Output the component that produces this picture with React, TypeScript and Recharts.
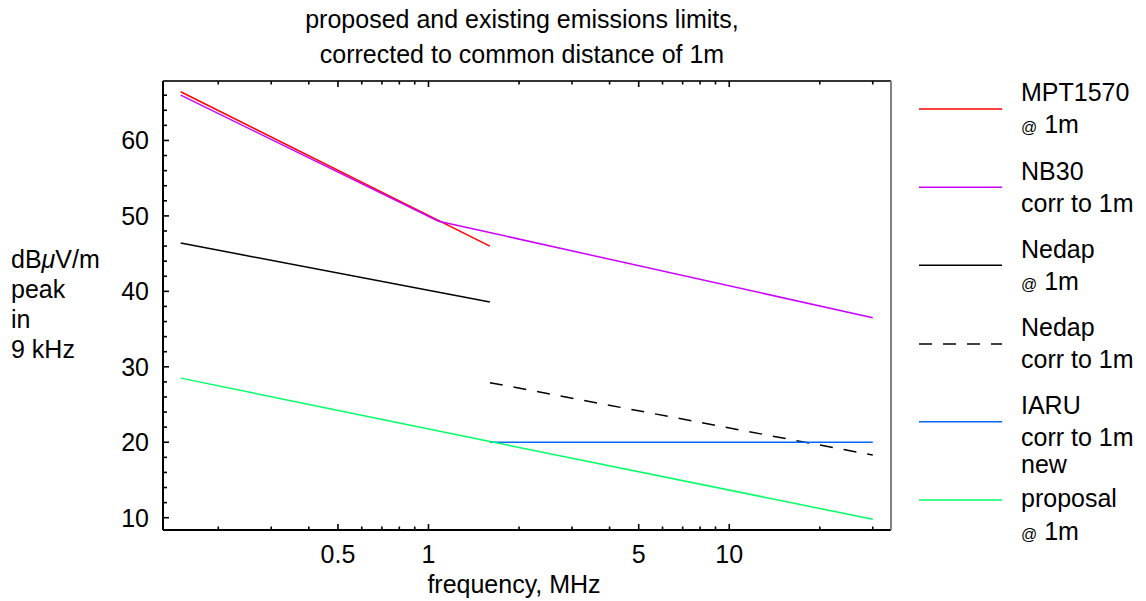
import React from "react";
import { LineChart, Line, XAxis, YAxis, Legend, Customized } from "recharts";

// ---------- data ----------
const freqTicks = [0.2, 0.3, 0.4, 0.5, 0.6, 0.7, 0.8, 0.9, 1, 2, 3, 4, 5, 6, 7, 8, 9, 10, 20, 30];
const freqLabels = [0.5, 1, 5, 10];
const levelTicks = [10, 12, 14, 16, 18, 20, 22, 24, 26, 28, 30, 32, 34, 36, 38, 40, 42, 44, 46, 48, 50, 52, 54, 56, 58, 60, 62, 64, 66];
const levelLabels = [10, 20, 30, 40, 50, 60];

const mpt1570 = [
  { f: 0.15, v: 66.45 },
  { f: 1.6, v: 46.0 },
];
const nb30 = [
  { f: 0.15, v: 66.0 },
  { f: 1.08, v: 49.3 },
  { f: 30, v: 36.5 },
];
const nedap = [
  { f: 0.15, v: 46.4 },
  { f: 1.6, v: 38.6 },
];
const nedapCorr = [
  { f: 1.6, v: 27.9 },
  { f: 30, v: 18.3 },
];
const iaru = [
  { f: 1.6, v: 20 },
  { f: 30, v: 20 },
];
const proposal = [
  { f: 0.15, v: 28.5 },
  { f: 1.6, v: 20.1 },
  { f: 30, v: 9.8 },
];

const seriesNames = [
  "MPT1570 @ 1m",
  "NB30 corr to 1m",
  "Nedap @ 1m",
  "Nedap corr to 1m",
  "IARU corr to 1m",
  "new proposal @ 1m",
];
const legendLabels = [
  ["MPT1570", "@ 1m"],
  ["NB30", "corr to 1m"],
  ["Nedap", "@ 1m"],
  ["Nedap", "corr to 1m"],
  ["IARU", "corr to 1m"],
  ["new", "proposal", "@ 1m"],
];

const titleLines = ["proposed and existing emissions limits,", "corrected to common distance of 1m"];
const yLabelLines = ["dBμV/m", "peak", "in", "9 kHz"];
const xLabel = "frequency, MHz";

// ---------- styling ----------
const FONT = "'Liberation Sans', Arial, Helvetica, sans-serif";
const FS = 25;
const X_DOMAIN: [number, number] = [0.131, 34.5];
const Y_DOMAIN: [number, number] = [8.37, 67.88];

const renderLabelText = (s: string) => {
  if (s.startsWith("@")) {
    return (
      <>
        <tspan fontSize={16}>@</tspan>
        <tspan>{s.slice(1)}</tspan>
      </>
    );
  }
  if (s.includes("μ")) {
    const [a, b] = s.split("μ");
    return (
      <>
        <tspan>{a}</tspan>
        <tspan fontStyle="italic">μ</tspan>
        <tspan>{b}</tspan>
      </>
    );
  }
  return s;
};

const BottomTick = (props: any) => {
  const { x, y, payload } = props;
  const major = freqLabels.includes(payload.value);
  return (
    <g>
      <path d={`M${x},${y}V${y - (major ? 6 : 3.5)}`} stroke="#000" strokeWidth={1.6} fill="none" />
      {major && (
        <text x={x} y={y + 33} textAnchor="middle" fontFamily={FONT} fontSize={FS} fill="#000" stroke="none">
          {payload.value}
        </text>
      )}
    </g>
  );
};

const TopTick = (props: any) => {
  const { x, y, payload } = props;
  const major = freqLabels.includes(payload.value);
  return <path d={`M${x},${y}V${y + (major ? 6 : 3.5)}`} stroke="#000" strokeWidth={1.6} fill="none" />;
};

const LeftTick = (props: any) => {
  const { x, y, payload } = props;
  const major = levelLabels.includes(payload.value);
  return (
    <g>
      <path d={`M${x},${y}H${x + (major ? 6 : 4)}`} stroke="#000" strokeWidth={1.6} fill="none" />
      {major && (
        <text x={x - 14} y={y + 9} textAnchor="end" fontFamily={FONT} fontSize={FS} fill="#000" stroke="none">
          {payload.value}
        </text>
      )}
    </g>
  );
};

const Texts = () => (
  <g fontFamily={FONT} fontSize={FS} fill="#000">
    <text x={522} y={28} textAnchor="middle">{titleLines[0]}</text>
    <text x={522} y={63} textAnchor="middle">{titleLines[1]}</text>
    {yLabelLines.map((s, i) => (
      <text key={i} x={11} y={268 + i * 30}>
        {renderLabelText(s)}
      </text>
    ))}
    <text x={514} y={593} textAnchor="middle">{xLabel}</text>
  </g>
);

const legendLineY = [109, 187.3, 265.3, 344, 421.7, 500];

const LegendContent = (props: any) => {
  const payload = [...(props.payload || [])].sort(
    (a: any, b: any) => seriesNames.indexOf(a.value) - seriesNames.indexOf(b.value)
  );
  return (
    <svg width={246} height={601} style={{ display: "block" }}>
      {payload.map((p: any) => {
        const i = seriesNames.indexOf(p.value);
        const ly = legendLineY[i];
        const lines = legendLabels[i];
        const baselines =
          lines.length === 3 ? [ly - 27, ly + 6.5, ly + 40] : [ly - 7.6, ly + 24.2];
        return (
          <g key={i}>
            <line
              x1={19}
              x2={102}
              y1={ly}
              y2={ly}
              stroke={p.color}
              strokeWidth={1.5}
              strokeDasharray={p.payload && p.payload.strokeDasharray}
            />
            {lines.map((s, j) => (
              <text key={j} x={121} y={baselines[j]} fontFamily={FONT} fontSize={FS} fill="#000">
                {renderLabelText(s)}
              </text>
            ))}
          </g>
        );
      })}
    </svg>
  );
};

export default function App() {
  return (
    <div style={{ position: "absolute", left: 0, top: 0, width: 1146, height: 601, background: "#fff" }}>
      <LineChart width={1146} height={601} margin={{ top: 80, right: 254, bottom: 70, left: 162 }}>
        <XAxis
          dataKey="f"
          type="number"
          scale="log"
          domain={X_DOMAIN}
          allowDataOverflow
          ticks={freqTicks}
          interval={0}
          height={1}
          tickSize={0}
          tickMargin={0}
          tickLine={false}
          stroke="#000"
          axisLine={{ stroke: "#000", strokeWidth: 2 }}
          tick={<BottomTick />}
        />
        <XAxis
          xAxisId="top"
          orientation="top"
          dataKey="f"
          type="number"
          scale="log"
          domain={X_DOMAIN}
          allowDataOverflow
          ticks={freqTicks}
          interval={0}
          height={1}
          tickSize={0}
          tickMargin={0}
          tickLine={false}
          stroke="#333"
          axisLine={{ stroke: "#333", strokeWidth: 2 }}
          tick={<TopTick />}
        />
        <YAxis
          type="number"
          domain={Y_DOMAIN}
          allowDataOverflow
          ticks={levelTicks}
          interval={0}
          width={1}
          tickSize={0}
          tickMargin={0}
          tickLine={false}
          stroke="#000"
          axisLine={{ stroke: "#000", strokeWidth: 2 }}
          tick={<LeftTick />}
        />
        <YAxis
          yAxisId="right"
          orientation="right"
          type="number"
          domain={Y_DOMAIN}
          allowDataOverflow
          width={1}
          tick={false}
          tickLine={false}
          stroke="#808080"
          axisLine={{ stroke: "#808080", strokeWidth: 2 }}
        />
        <Legend
          layout="horizontal"
          verticalAlign="middle"
          align="center"
          wrapperStyle={{ left: 900, top: 0, width: 246, height: 601 }}
          content={<LegendContent />}
        />
        <Line data={mpt1570} dataKey="v" name={seriesNames[0]} stroke="#ff0000" strokeWidth={1.5} dot={false} isAnimationActive={false} />
        <Line data={nb30} dataKey="v" name={seriesNames[1]} stroke="#cc00ff" strokeWidth={1.5} dot={false} isAnimationActive={false} />
        <Line data={nedap} dataKey="v" name={seriesNames[2]} stroke="#000000" strokeWidth={1.5} dot={false} isAnimationActive={false} />
        <Line data={nedapCorr} dataKey="v" name={seriesNames[3]} stroke="#000000" strokeWidth={1.5} strokeDasharray="13 11" dot={false} isAnimationActive={false} />
        <Line data={iaru} dataKey="v" name={seriesNames[4]} stroke="#0066ff" strokeWidth={1.5} dot={false} isAnimationActive={false} />
        <Line data={proposal} dataKey="v" name={seriesNames[5]} stroke="#00ff66" strokeWidth={1.5} dot={false} isAnimationActive={false} />
        <Customized component={Texts} />
      </LineChart>
    </div>
  );
}
